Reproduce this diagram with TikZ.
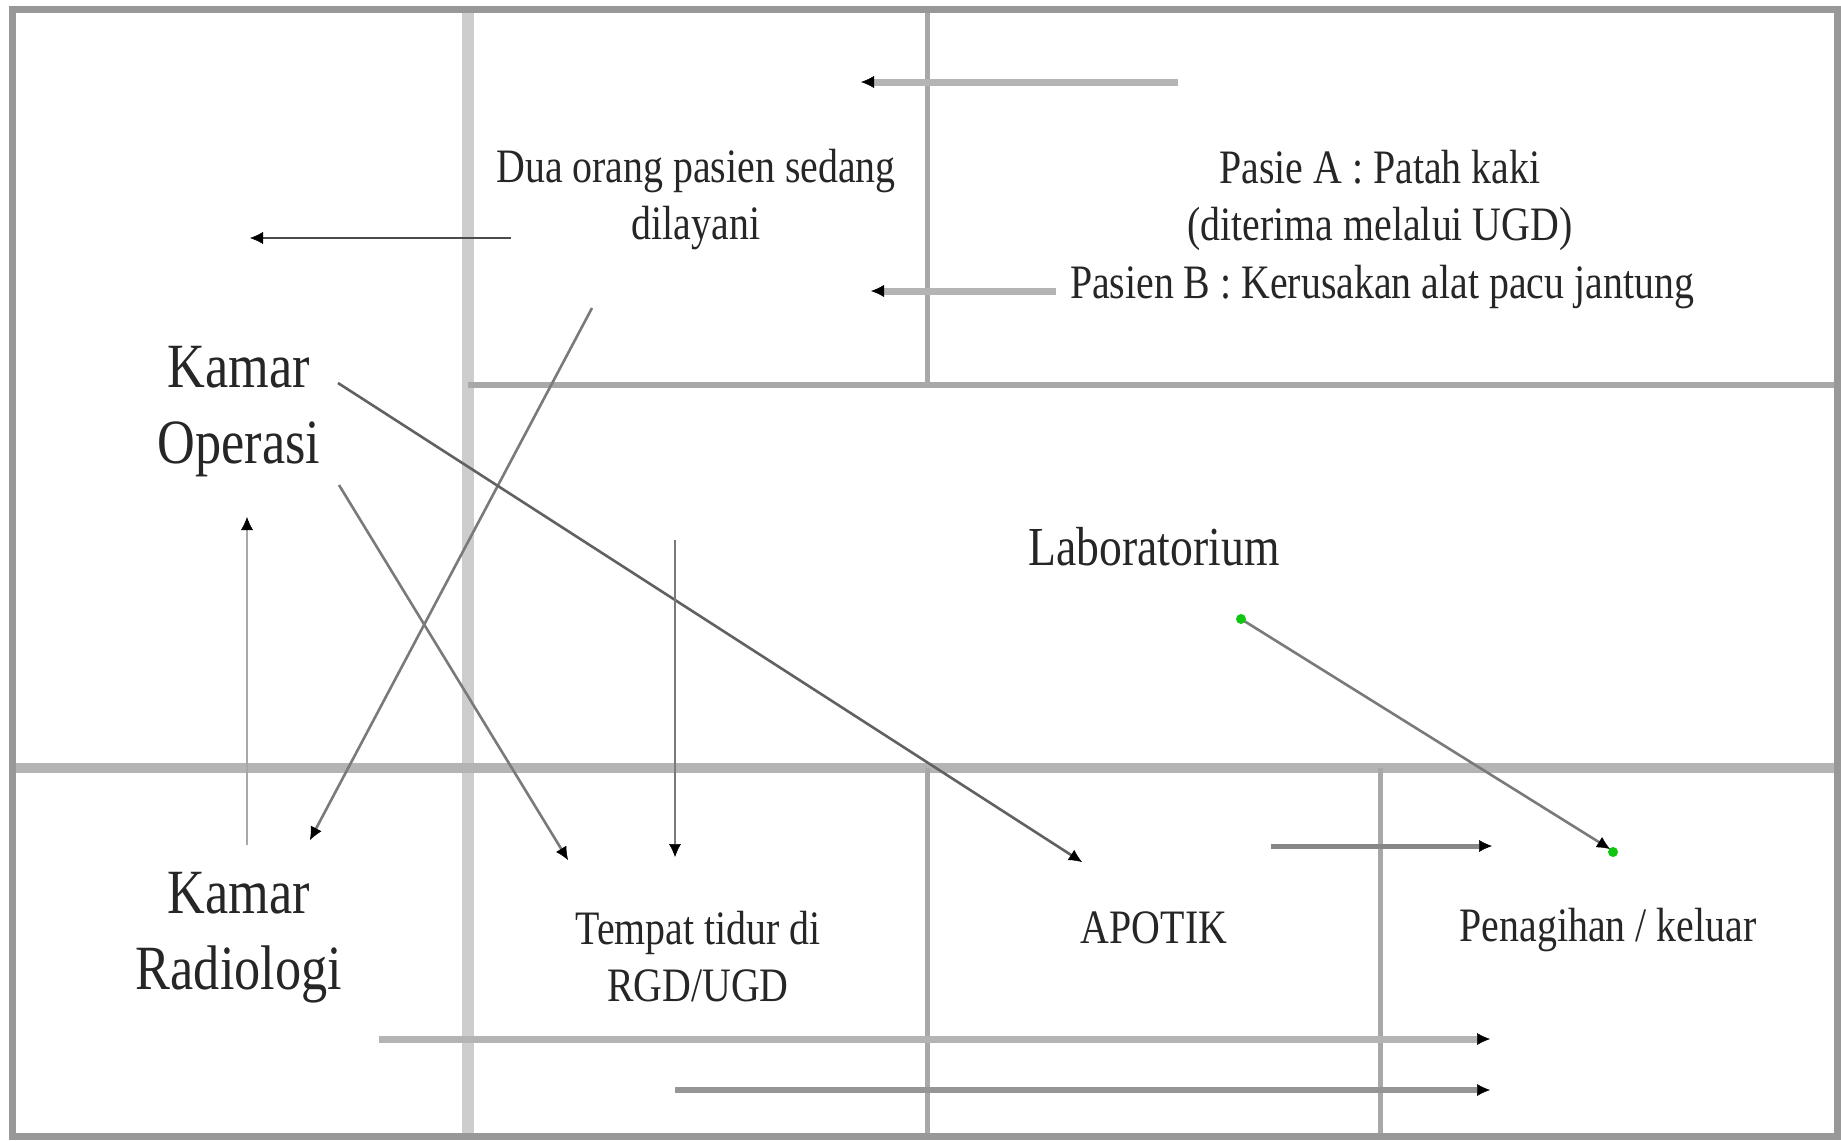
\documentclass[tikz,border=0pt]{standalone}
\usepackage{fontspec}
\setmainfont{Liberation Serif}[FakeStretch=0.83]
\usetikzlibrary{arrows.meta}
\definecolor{framec}{HTML}{989898}
\definecolor{wallc}{HTML}{A8A8A8}
\definecolor{palewall}{HTML}{CDCDCD}
\definecolor{thickc}{HTML}{B4B4B4}
\definecolor{thinc}{HTML}{7A7A7A}
\definecolor{txt}{HTML}{262626}
\definecolor{dotgreen}{HTML}{11C611}
\begin{document}
\begin{tikzpicture}[x=1pt,y=-1pt,
  frameline/.style={draw=framec,line width=7},
  wall/.style={draw=wallc,line width=5},
  palewallline/.style={draw=palewall,line width=12},
  tip/.style={-{Latex[length=13pt,width=12pt,color=black,line width=0.5pt]}},
  thickarrow/.style={tip,draw=thickc,line width=7},
  thinarrow/.style={tip,draw=thinc,line width=2.6},
  small/.style={text=txt,inner sep=0,align=center,font=\fontsize{48}{57}\selectfont},
  big/.style={text=txt,inner sep=0,align=center,font=\fontsize{63}{76}\selectfont},
]
\useasboundingbox (0,0) rectangle (1841,1140);
\fill[white] (0,0) rectangle (1841,1140);

% walls of the plan
\draw[palewallline] (468,9) -- (468,1137);
\draw[wall,line width=6] (468,385) -- (1838,385);
\draw[wall,draw=thickc,line width=10] (12,768) -- (1838,768);
\draw[wall] (927,9) -- (927,385);
\draw[wall] (927,768) -- (927,1137);
\draw[wall] (1380,768) -- (1380,1137);
\draw[frameline] (12,10) rectangle (1837,1136);

% room labels
\node[small] (dua) at (696,200) {Dua orang pasien sedang\\dilayani};
\node[small] (pasienA) at (1380,200) {Pasie A : Patah kaki\\(diterima melalui UGD)};
\node[small] (pasienB) at (1382,287) {Pasien B : Kerusakan alat pacu jantung};
\node[big] (operasi) at (239,412) {Kamar\\Operasi};
\node[big,font=\fontsize{55}{66}\selectfont] (lab) at (1154,547) {Laboratorium};
\node[big] (radiologi) at (239,938) {Kamar\\Radiologi};
\node[small] (tempat) at (698,957) {Tempat tidur di\\RGD/UGD};
\node[small] (apotik) at (1154,928) {APOTIK};
\node[small] (tagihan) at (1608,930) {Penagihan / keluar};

% arrow end points
\coordinate (a1s) at (1178,82);   \coordinate (a1e) at (861,82);
\coordinate (a2s) at (511,238);   \coordinate (a2e) at (250,238);
\coordinate (a3e) at (871,291);
\coordinate (a4s) at (592,308);   \coordinate (a4e) at (310,840);
\coordinate (a5s) at (338,383);   \coordinate (a5e) at (1082,862);
\coordinate (a6s) at (339,485);   \coordinate (a6e) at (568,860);
\coordinate (a7s) at (675,540);   \coordinate (a7e) at (675,857);
\coordinate (a8s) at (247,845);   \coordinate (a8e) at (247,517);
\coordinate (a9s) at (1241,619);  \coordinate (a9e) at (1610,849);
\coordinate (a10s) at (1271,846); \coordinate (a10e) at (1492,846);
\coordinate (a11s) at (379,1039); \coordinate (a11e) at (1490,1039);
\coordinate (a12s) at (675,1090); \coordinate (a12e) at (1490,1090);

% movements between rooms
\draw[thickarrow] (a1s) -- (a1e);
\draw[thinarrow,draw=black!70] (a2s) -- (a2e);
\draw[thickarrow] (pasienB.west) ++(-14,4) -- (a3e);
\draw[thinarrow] (a4s) -- (a4e);
\draw[thinarrow,draw=black!62] (a5s) -- (a5e);
\draw[thinarrow] (a6s) -- (a6e);
\draw[thinarrow] (a7s) -- (a7e);
\draw[thinarrow,draw=wallc] (a8s) -- (a8e);
\draw[thinarrow] (a9s) -- (a9e);
\fill[dotgreen] (a9s) circle (5);
\fill[dotgreen] (a9e) ++(3,3) circle (5);
\draw[thickarrow,draw=thinc!90,line width=5] (a10s) -- (a10e);
\draw[thickarrow] (a11s) -- (a11e);
\draw[thickarrow,draw=thinc!80,line width=6] (a12s) -- (a12e);
\end{tikzpicture}
\end{document}
